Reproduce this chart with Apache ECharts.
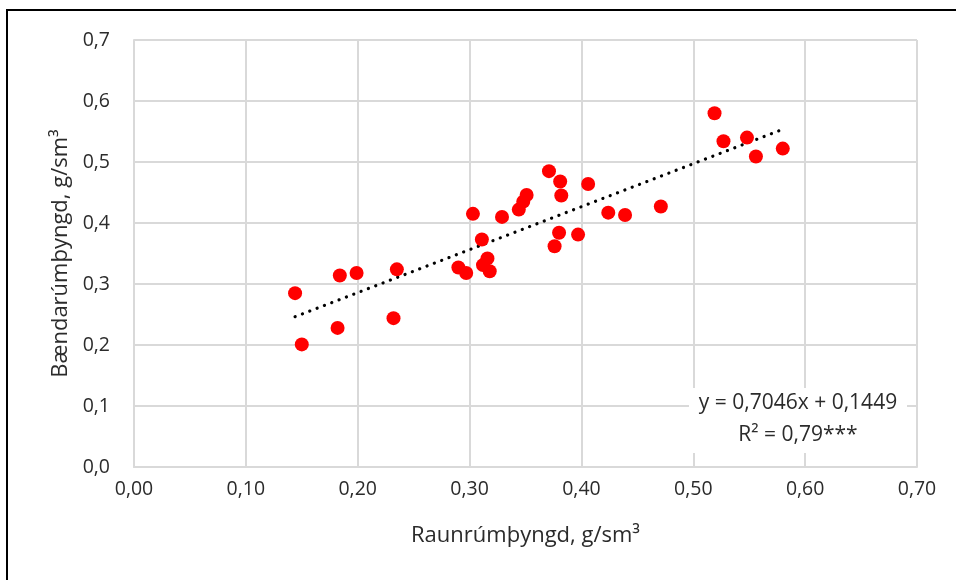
<!DOCTYPE html>
<html>
<head>
<meta charset="utf-8">
<title>Bændarúmþyngd og raunrúmþyngd</title>
<script src="https://cdn.jsdelivr.net/npm/echarts@6/dist/echarts.min.js"></script>
<style>
  html, body { margin: 0; padding: 0; background: #fff; }
  #chart { width: 956px; height: 580px; }
</style>
</head>
<body>
<div id="chart"></div>
<script>
// Raunrúmþyngd (x) og bændarúmþyngd (y), g/sm³
const raunX = [0.144, 0.150, 0.182, 0.184, 0.199, 0.232, 0.235, 0.290, 0.297, 0.303, 0.311,
               0.312, 0.316, 0.318, 0.329, 0.344, 0.348, 0.351, 0.371, 0.376, 0.380, 0.381,
               0.382, 0.397, 0.406, 0.424, 0.439, 0.471, 0.519, 0.527, 0.548, 0.556, 0.580];
const baendY = [0.285, 0.201, 0.228, 0.314, 0.318, 0.244, 0.324, 0.327, 0.318, 0.415, 0.373,
                0.331, 0.342, 0.321, 0.410, 0.422, 0.435, 0.446, 0.485, 0.362, 0.384, 0.468,
                0.445, 0.381, 0.464, 0.417, 0.413, 0.427, 0.580, 0.534, 0.540, 0.509, 0.522];

// Línuleg aðhvarfslína
const slope = 0.7046;
const intercept = 0.1449;
const equationText = 'y = 0,7046x + 0,1449';
const r2Text = 'R² = 0,79***';

const xTitle = 'Raunrúmþyngd, g/sm³';
const yTitle = 'Bændarúmþyngd, g/sm³';

const points = raunX.map((x, i) => [x, baendY[i]]);
const xMin = Math.min(...raunX);
const xMax = Math.max(...raunX);
const trend = [[xMin, slope * xMin + intercept], [xMax, slope * xMax + intercept]];

const FONT = '"Open Sans", Lato, sans-serif';
const GRID = '#d9d9d9';
const TEXT = '#2b2b2b';

const chart = echarts.init(document.getElementById('chart'), null, { renderer: 'canvas' });
chart.setOption({
  animation: false,
  backgroundColor: '#fff',
  textStyle: { fontFamily: FONT },
  grid: { left: 134, right: 39, top: 40, bottom: 113 },
  xAxis: {
    type: 'value', min: 0, max: 0.7, interval: 0.1,
    name: xTitle, nameLocation: 'middle', nameGap: 58,
    nameTextStyle: { fontSize: 22, color: TEXT, fontFamily: FONT },
    axisLine: { show: true, lineStyle: { color: GRID, width: 2 } },
    axisTick: { show: false },
    axisLabel: {
      margin: 12, fontSize: 19.5, color: TEXT, fontFamily: FONT,
      formatter: v => v.toFixed(2).replace('.', ',')
    },
    splitLine: { show: true, lineStyle: { color: GRID, width: 2 } }
  },
  yAxis: {
    type: 'value', min: 0, max: 0.7, interval: 0.1,
    name: yTitle, nameLocation: 'middle', nameGap: 62, nameRotate: 90,
    nameTextStyle: { fontSize: 22, color: TEXT, fontFamily: FONT },
    axisLine: { show: true, lineStyle: { color: GRID, width: 2 } },
    axisTick: { show: false },
    axisLabel: {
      margin: 24, fontSize: 19.5, color: TEXT, fontFamily: FONT,
      formatter: v => v.toFixed(1).replace('.', ',')
    },
    splitLine: { show: true, lineStyle: { color: GRID, width: 2 } }
  },
  series: [
    {
      type: 'line',
      data: trend,
      symbol: 'none',
      z: 3,
      lineStyle: { color: '#000', width: 3.2, type: [0.1, 7.75], cap: 'round' }
    },
    {
      type: 'scatter',
      data: points,
      symbol: 'circle',
      symbolSize: 14,
      z: 4,
      itemStyle: { color: '#ff0000', opacity: 1 }
    }
  ],
  graphic: [
    {
      type: 'rect', z: 100,
      shape: { x: 689, y: 388, width: 218, height: 65 },
      style: { fill: '#fff' }
    },
    {
      type: 'text', z: 101, x: 798, y: 403,
      style: { text: equationText, fontSize: 21, fontFamily: FONT, fill: TEXT, align: 'center', verticalAlign: 'middle' }
    },
    {
      type: 'text', z: 101, x: 798, y: 435,
      style: { text: r2Text, fontSize: 21, fontFamily: FONT, fill: TEXT, align: 'center', verticalAlign: 'middle' }
    },
    {
      type: 'rect', z: 100,
      shape: { x: 7, y: 10, width: 1200, height: 1200 },
      style: { fill: 'none', stroke: '#000', lineWidth: 2 }
    }
  ]
});
</script>
</body>
</html>
